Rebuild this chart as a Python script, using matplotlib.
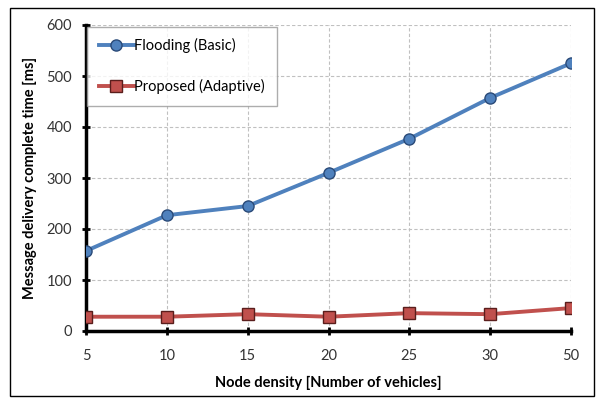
import numpy as np
import matplotlib
matplotlib.use('Agg')
import matplotlib.pyplot as plt
from matplotlib.patches import Rectangle

plt.rcParams['font.family'] = ['Lato', 'DejaVu Sans']

categories = ['5', '10', '15', '20', '25', '30', '50']
flooding = [157, 227, 245, 310, 377, 457, 525]
proposed = [28, 28, 33, 28, 35, 33, 45]

fig = plt.figure(figsize=(5.97, 3.98), dpi=100)
ax = fig.add_axes([86 / 597, 1 - 331 / 398, (571 - 86) / 597, (331 - 25) / 398])

x = np.arange(len(categories))
ax.plot(x, flooding, color='#4F81BD', lw=2.8, marker='o', ms=8,
        mfc='#4F81BD', mec='#2A4A78', mew=1.0, label='Flooding (Basic)', zorder=3)
ax.plot(x, proposed, color='#C0504D', lw=2.8, marker='s', ms=8,
        mfc='#C0504D', mec='#5A1E1C', mew=1.0, label='Proposed (Adaptive)', zorder=3)

ax.set_xlim(0, len(categories) - 1)
ax.set_ylim(0, 600)
ax.set_xticks(x)
ax.set_xticklabels(categories)
ax.set_yticks(np.arange(0, 601, 100))

ax.grid(True, color='#c0c0c0', ls=(0, (3, 2)), lw=0.8)
ax.set_axisbelow(True)

for s in ['top', 'right']:
    ax.spines[s].set_visible(False)
for s in ['left', 'bottom']:
    ax.spines[s].set_linewidth(2.5)
    ax.spines[s].set_color('black')
ax.tick_params(direction='inout', length=6, width=2, labelsize=10.5,
               labelcolor='#333333')
ax.tick_params(axis='x', pad=10)
ax.tick_params(axis='y', pad=7)

ax.set_xlabel('Node density [Number of vehicles]', fontsize=10.5, fontweight='bold', labelpad=9)
ax.set_ylabel('Message delivery complete time [ms]', fontsize=10.5, fontweight='bold', labelpad=7)

leg = ax.legend(loc='upper left', bbox_to_anchor=(0.002, 0.995), borderaxespad=0,
                fontsize=10.5, frameon=True, fancybox=False, borderpad=0.8,
                labelspacing=1.75, handlelength=2.4, handletextpad=0.05)
leg.get_frame().set_edgecolor('#999999')
leg.get_frame().set_linewidth(1.0)

fig.patches.append(Rectangle((10 / 597, 2 / 398), 584 / 597, 388 / 398,
                             transform=fig.transFigure, fill=False,
                             edgecolor='black', lw=1.0))

plt.savefig('out.png', dpi=100)
